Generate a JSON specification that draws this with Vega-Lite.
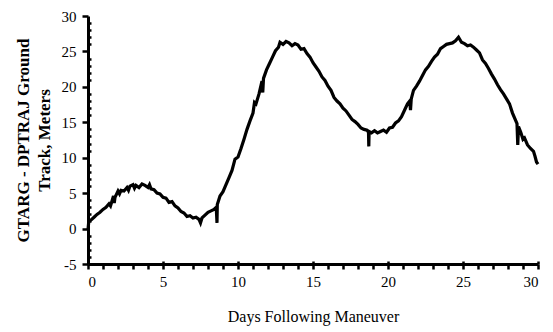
{
  "$schema": "https://vega.github.io/schema/vega-lite/v6.json",
  "autosize": "none",
  "width": 450,
  "height": 248,
  "padding": {"left": 88, "top": 16, "right": 15, "bottom": 68},
  "background": "white",
  "config": {"view": {"stroke": null}, "axis": {"grid": false}},
  "data": {"values": [
    {"day": 0.0, "m": -0.2}, {"day": 0.05, "m": 1.0}, {"day": 0.2, "m": 1.2}, {"day": 0.4, "m": 1.6},
    {"day": 0.6, "m": 2.0}, {"day": 0.8, "m": 2.3}, {"day": 1.0, "m": 2.7}, {"day": 1.2, "m": 3.0},
    {"day": 1.4, "m": 3.5}, {"day": 1.5, "m": 3.2}, {"day": 1.6, "m": 3.9}, {"day": 1.7, "m": 4.6},
    {"day": 1.75, "m": 3.6}, {"day": 1.8, "m": 4.4}, {"day": 2.0, "m": 5.3}, {"day": 2.1, "m": 4.9},
    {"day": 2.2, "m": 5.4}, {"day": 2.4, "m": 5.3}, {"day": 2.6, "m": 5.8}, {"day": 2.7, "m": 5.4},
    {"day": 2.8, "m": 6.0}, {"day": 3.0, "m": 6.2}, {"day": 3.1, "m": 5.7}, {"day": 3.2, "m": 6.1},
    {"day": 3.4, "m": 5.8}, {"day": 3.6, "m": 6.3}, {"day": 3.8, "m": 6.1}, {"day": 4.0, "m": 5.8},
    {"day": 4.1, "m": 6.2}, {"day": 4.2, "m": 5.6}, {"day": 4.4, "m": 5.5}, {"day": 4.6, "m": 5.0},
    {"day": 4.8, "m": 4.9}, {"day": 5.0, "m": 4.4}, {"day": 5.2, "m": 4.3}, {"day": 5.4, "m": 3.7},
    {"day": 5.6, "m": 3.8}, {"day": 5.8, "m": 3.2}, {"day": 6.0, "m": 2.9}, {"day": 6.2, "m": 2.4},
    {"day": 6.4, "m": 2.2}, {"day": 6.6, "m": 1.7}, {"day": 6.8, "m": 1.8}, {"day": 7.0, "m": 1.5},
    {"day": 7.2, "m": 1.6}, {"day": 7.4, "m": 1.3}, {"day": 7.5, "m": 0.8}, {"day": 7.6, "m": 1.5},
    {"day": 7.8, "m": 1.9}, {"day": 8.0, "m": 2.3}, {"day": 8.2, "m": 2.5}, {"day": 8.4, "m": 2.7},
    {"day": 8.55, "m": 3.0}, {"day": 8.6, "m": 0.8}, {"day": 8.62, "m": 3.4}, {"day": 8.8, "m": 4.6},
    {"day": 9.0, "m": 5.2}, {"day": 9.2, "m": 6.2}, {"day": 9.4, "m": 7.2}, {"day": 9.6, "m": 8.2},
    {"day": 9.8, "m": 9.8}, {"day": 10.0, "m": 10.1}, {"day": 10.2, "m": 11.3}, {"day": 10.4, "m": 12.6},
    {"day": 10.6, "m": 14.0}, {"day": 10.8, "m": 15.2}, {"day": 11.0, "m": 16.3}, {"day": 11.1, "m": 17.8},
    {"day": 11.2, "m": 17.6}, {"day": 11.4, "m": 19.0}, {"day": 11.6, "m": 20.8}, {"day": 11.65, "m": 19.2},
    {"day": 11.7, "m": 21.2}, {"day": 11.9, "m": 22.4}, {"day": 12.1, "m": 23.3}, {"day": 12.3, "m": 24.2},
    {"day": 12.5, "m": 25.1}, {"day": 12.7, "m": 25.6}, {"day": 12.8, "m": 26.3}, {"day": 13.0, "m": 26.0},
    {"day": 13.2, "m": 26.4}, {"day": 13.4, "m": 26.2}, {"day": 13.6, "m": 25.8}, {"day": 13.8, "m": 26.1},
    {"day": 14.0, "m": 25.9}, {"day": 14.2, "m": 25.3}, {"day": 14.4, "m": 25.4}, {"day": 14.6, "m": 24.7},
    {"day": 14.8, "m": 24.2}, {"day": 15.0, "m": 23.4}, {"day": 15.2, "m": 22.8}, {"day": 15.4, "m": 22.2},
    {"day": 15.6, "m": 21.4}, {"day": 15.8, "m": 20.9}, {"day": 16.0, "m": 20.1}, {"day": 16.2, "m": 19.5},
    {"day": 16.4, "m": 18.5}, {"day": 16.6, "m": 18.0}, {"day": 16.8, "m": 17.6}, {"day": 17.0, "m": 17.0},
    {"day": 17.2, "m": 16.6}, {"day": 17.4, "m": 16.0}, {"day": 17.6, "m": 15.4}, {"day": 17.8, "m": 15.1},
    {"day": 18.0, "m": 14.7}, {"day": 18.2, "m": 14.2}, {"day": 18.4, "m": 14.0}, {"day": 18.6, "m": 13.9},
    {"day": 18.7, "m": 13.6}, {"day": 18.72, "m": 11.6}, {"day": 18.74, "m": 13.7}, {"day": 18.9, "m": 13.5},
    {"day": 19.1, "m": 13.8}, {"day": 19.3, "m": 13.5}, {"day": 19.5, "m": 13.7}, {"day": 19.7, "m": 13.9},
    {"day": 19.9, "m": 13.6}, {"day": 20.1, "m": 14.2}, {"day": 20.3, "m": 14.3}, {"day": 20.5, "m": 14.9},
    {"day": 20.7, "m": 15.2}, {"day": 20.9, "m": 15.8}, {"day": 21.1, "m": 16.7}, {"day": 21.3, "m": 17.6},
    {"day": 21.45, "m": 18.0}, {"day": 21.5, "m": 16.7}, {"day": 21.55, "m": 18.3}, {"day": 21.7, "m": 19.5},
    {"day": 21.9, "m": 20.1}, {"day": 22.1, "m": 20.8}, {"day": 22.3, "m": 21.6}, {"day": 22.5, "m": 22.4},
    {"day": 22.7, "m": 22.9}, {"day": 22.9, "m": 23.6}, {"day": 23.1, "m": 24.2}, {"day": 23.3, "m": 24.6},
    {"day": 23.5, "m": 25.4}, {"day": 23.7, "m": 25.7}, {"day": 23.9, "m": 26.0}, {"day": 24.1, "m": 26.1},
    {"day": 24.3, "m": 26.2}, {"day": 24.5, "m": 26.5}, {"day": 24.7, "m": 27.0}, {"day": 24.9, "m": 26.3},
    {"day": 25.1, "m": 26.1}, {"day": 25.3, "m": 25.8}, {"day": 25.5, "m": 25.9}, {"day": 25.7, "m": 25.6},
    {"day": 25.9, "m": 25.2}, {"day": 26.1, "m": 24.8}, {"day": 26.3, "m": 23.8}, {"day": 26.5, "m": 23.3},
    {"day": 26.7, "m": 22.6}, {"day": 26.9, "m": 21.8}, {"day": 27.1, "m": 21.1}, {"day": 27.3, "m": 20.3},
    {"day": 27.5, "m": 19.6}, {"day": 27.7, "m": 19.0}, {"day": 27.9, "m": 18.3}, {"day": 28.1, "m": 17.6},
    {"day": 28.3, "m": 16.3}, {"day": 28.5, "m": 15.3}, {"day": 28.6, "m": 14.8}, {"day": 28.65, "m": 11.8},
    {"day": 28.7, "m": 14.4}, {"day": 28.85, "m": 13.6}, {"day": 29.0, "m": 12.6}, {"day": 29.1, "m": 12.8},
    {"day": 29.3, "m": 11.8}, {"day": 29.5, "m": 11.3}, {"day": 29.7, "m": 10.9}, {"day": 29.8, "m": 10.2},
    {"day": 29.9, "m": 9.4}, {"day": 30.0, "m": 9.1}
  ]},
  "layer": [
    {
      "mark": {"type": "line", "color": "black", "strokeWidth": 3.2},
      "encoding": {
        "order": {"value": null},
        "x": {
          "field": "day", "type": "quantitative",
          "scale": {"domain": [0, 30], "nice": false},
          "axis": {
            "values": [0,1,2,3,4,5,6,7,8,9,10,11,12,13,14,15,16,17,18,19,20,21,22,23,24,25,26,27,28,29,30],
            "labelExpr": "datum.value % 5 === 0 ? '' + datum.value : ''",
            "domainColor": "black", "domainWidth": 3,
            "tickColor": "black", "tickWidth": 2.5, "tickSize": 5,
            "labelFontSize": 15, "labelPadding": 5,
            "title": "Days Following Maneuver",
            "titleFontSize": 16, "titleFontWeight": "normal", "titlePadding": 19
          }
        },
        "y": {
          "field": "m", "type": "quantitative",
          "scale": {"domain": [-5, 30], "nice": false},
          "axis": {
            "values": [-5, 0, 5, 10, 15, 20, 25, 30],
            "labelExpr": "'' + datum.value",
            "domainColor": "black", "domainWidth": 3,
            "tickColor": "black", "tickWidth": 2.5, "tickSize": 6,
            "labelFontSize": 15, "labelPadding": 6,
            "title": ["GTARG - DPTRAJ Ground", "Track, Meters"],
            "titleFontSize": 17, "titleFontWeight": "bold",
            "titleLineHeight": 21, "titlePadding": 8
          }
        }
      }
    },
    {
      "mark": {"type": "line", "color": "black", "opacity": 0},
      "encoding": {
        "order": {"value": null},
        "x": {
          "field": "day", "type": "quantitative",
          "scale": {"domain": [0, 30], "nice": false},
          "axis": {"orient": "bottom", "values": [0, 5, 10, 15, 20, 25, 30], "labels": false, "domain": false, "title": null,
            "tickColor": "black", "tickWidth": 2.5, "tickSize": -3}
        },
        "y": {
          "field": "m", "type": "quantitative",
          "scale": {"domain": [-5, 30], "nice": false},
          "axis": {"orient": "left", "values": [-4,-3,-2,-1,1,2,3,4,6,7,8,9,11,12,13,14,16,17,18,19,21,22,23,24,26,27,28,29],
            "labels": false, "domain": false, "title": null,
            "tickColor": "black", "tickWidth": 2.5, "tickSize": -3}
        }
      }
    }
  ],
  "resolve": {"axis": {"x": "independent", "y": "independent"}},
  "config": {
    "view": {"stroke": null},
    "axis": {"grid": false, "labelFont": "Liberation Serif", "titleFont": "Liberation Serif", "labelColor": "black", "titleColor": "black"}
  }
}
